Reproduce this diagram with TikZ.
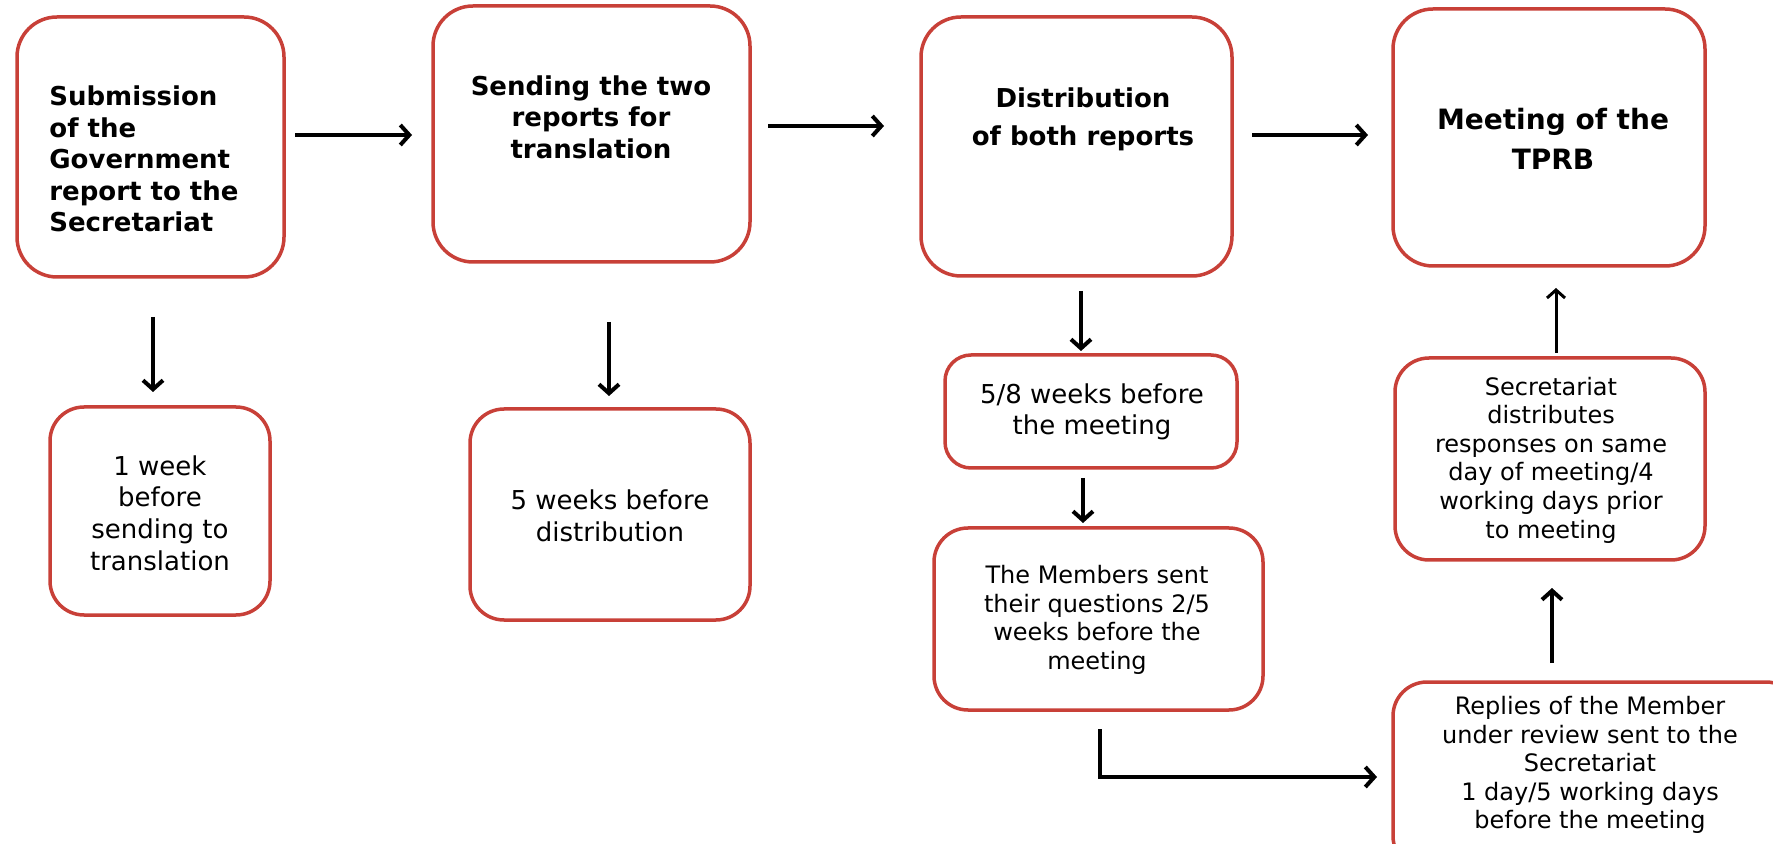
\documentclass[tikz,border=0pt]{standalone}
\usepackage{fontspec}
\setmainfont{DejaVu Sans}
\usetikzlibrary{fit,arrows.meta}
\definecolor{boxred}{RGB}{200,64,56}
\tikzset{
  x=0.5pt, y=-0.5pt,
  pbox/.style={draw=boxred, line width=1.75pt, fill=white, inner sep=0pt},
  bigr/.style={rounded corners=20pt},
  midr/.style={rounded corners=17pt},
  smallr/.style={rounded corners=13pt},
  headtxt/.style={font=\bfseries\fontsize{13}{15.8}\selectfont, align=center, inner sep=0pt},
  bodytxt/.style={font=\fontsize{13}{15.8}\selectfont, align=center, inner sep=0pt},
  smalltxt/.style={font=\fontsize{12}{14.3}\selectfont, align=center, inner sep=0pt},
  arr/.style={line width=2pt, -{Straight Barb[length=4.5pt,width=10pt,line width=2pt]}},
  thinarr/.style={line width=1.5pt, -{Straight Barb[length=4pt,width=9pt,line width=1.5pt]}},
}
\begin{document}
\begin{tikzpicture}
\useasboundingbox (0,0) rectangle (1773,844);
% main boxes
\node[pbox, bigr, fit={(17,17) (284,277)}] (b1) {};
\node[pbox, bigr, fit={(433,6) (750,262)}] (b2) {};
\node[pbox, bigr, fit={(921,17) (1232,276)}] (b3) {};
\node[pbox, bigr, fit={(1393,9) (1705,266)}] (b4) {};
% lower boxes
\node[pbox, midr, fit={(50,407) (270,615)}] (b5) {};
\node[pbox, midr, fit={(470,409) (750,620)}] (b6) {};
\node[pbox, smallr, fit={(945,355) (1237,468)}] (b7) {};
\node[pbox, midr, fit={(934,528) (1263,710)}] (b8) {};
\node[pbox, midr, fit={(1395,358) (1705,560)}] (b9) {};
\node[pbox, midr, fit={(1393,682) (1800,870)}] (b10) {};
% texts
\node[headtxt, align=left, anchor=west] (t1) at (49,159) {Submission\\of the\\Government\\report to the\\Secretariat};
\node[headtxt] (t2) at (591,117) {Sending the two\\reports for\\translation};
\node[headtxt, font=\bfseries\fontsize{13}{19}\selectfont] (t3) at (1083,119) {Distribution\\of both reports};
\node[headtxt, font=\bfseries\fontsize{14}{20}\selectfont] (t4) at (1553,139) {Meeting of the\\TPRB};
\node[bodytxt] (t5) at (160,513) {1 week\\before\\sending to\\translation};
\node[bodytxt] (t6) at (610,516) {5 weeks before\\distribution};
\node[bodytxt] (t7) at (1092,412) {5/8 weeks before\\the meeting};
\node[smalltxt] (t8) at (1097,620) {The Members sent\\their questions 2/5\\weeks before the\\meeting};
\node[smalltxt] (t9) at (1551,460) {Secretariat\\distributes\\responses on same\\day of meeting/4\\working days prior\\to meeting};
\node[smalltxt] (t10) at (1590,765) {Replies of the Member\\under review sent to the\\Secretariat\\1 day/5 working days\\before the meeting};
% arrow end points
\coordinate (a1s) at (295,135); \coordinate (a1e) at (412,135);
\coordinate (a2s) at (768,126); \coordinate (a2e) at (884,126);
\coordinate (a3s) at (1252,135); \coordinate (a3e) at (1368,135);
\coordinate (v1s) at (153,317); \coordinate (v1e) at (153,392);
\coordinate (v2s) at (609,322); \coordinate (v2e) at (609,396);
\coordinate (v3s) at (1081,291); \coordinate (v3e) at (1081,351);
\coordinate (v4s) at (1083,478); \coordinate (v4e) at (1083,523);
\coordinate (v5s) at (1556,353); \coordinate (v5e) at (1556,288);
\coordinate (v6s) at (1552,663); \coordinate (v6e) at (1552,588);
\coordinate (e1s) at (1100,729); \coordinate (e1e) at (1377,777);
% arrows
\draw[arr] (a1s) -- (a1e);
\draw[arr] (a2s) -- (a2e);
\draw[arr] (a3s) -- (a3e);
\draw[arr] (v1s) -- (v1e);
\draw[arr] (v2s) -- (v2e);
\draw[arr] (v3s) -- (v3e);
\draw[arr] (v4s) -- (v4e);
\draw[thinarr] (v5s) -- (v5e);
\draw[arr] (v6s) -- (v6e);
\draw[arr] (e1s) |- (e1e);
\end{tikzpicture}
\end{document}
